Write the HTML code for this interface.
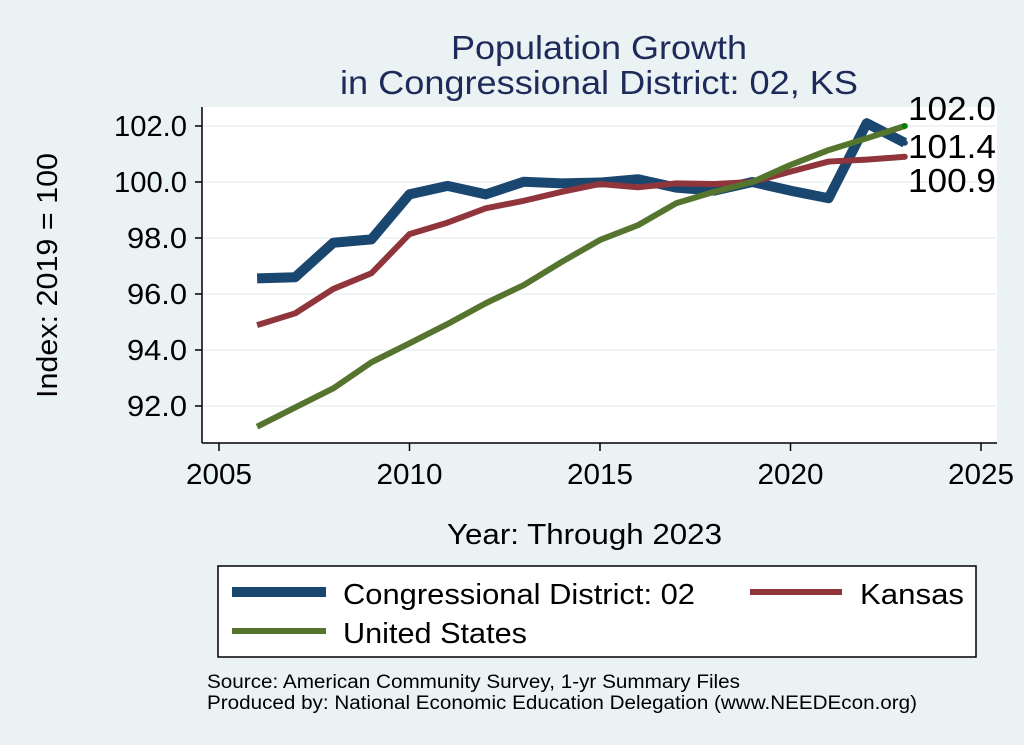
<!DOCTYPE html>
<html><head><meta charset="utf-8"><style>
body{margin:0;background:#eaf2f3;}
svg{display:block;font-family:"Liberation Sans",Arial,sans-serif;}
</style></head><body>
<svg id="chart" width="1024" height="745">
<rect x="0" y="0" width="1024" height="745" fill="#eaf2f3"/>
<text x="451" y="59" font-size="33" fill="#1e2b5a" textLength="296" lengthAdjust="spacingAndGlyphs">Population Growth</text>
<text x="340" y="94" font-size="33" fill="#1e2b5a" textLength="518" lengthAdjust="spacingAndGlyphs">in Congressional District: 02, KS</text>
<rect x="202" y="107" width="795" height="336" fill="#fff"/>
<g id="grid"></g>
<g id="series"></g>
<g id="axes"></g>
<text transform="translate(57,398) rotate(-90)" font-size="29" textLength="245" lengthAdjust="spacingAndGlyphs" fill="#000">Index: 2019 = 100</text>
<text x="447" y="544" font-size="29" textLength="275" lengthAdjust="spacingAndGlyphs" fill="#000">Year: Through 2023</text>
<g>
<rect x="218" y="566" width="758" height="91" fill="#fff" stroke="#000" stroke-width="1.5"/>
<line x1="232" y1="592" x2="326" y2="592" stroke="#1a476f" stroke-width="10"/>
<text x="343" y="604" font-size="29" textLength="352" lengthAdjust="spacingAndGlyphs">Congressional District: 02</text>
<line x1="750" y1="592" x2="842" y2="592" stroke="#90353b" stroke-width="6"/>
<text x="860" y="604" font-size="29" textLength="104" lengthAdjust="spacingAndGlyphs">Kansas</text>
<line x1="232" y1="631" x2="326" y2="631" stroke="#55752f" stroke-width="6"/>
<text x="343" y="643" font-size="29" textLength="184" lengthAdjust="spacingAndGlyphs">United States</text>
</g>
<text x="207" y="688" font-size="19" textLength="533" lengthAdjust="spacingAndGlyphs">Source: American Community Survey, 1-yr Summary Files</text>
<text x="207" y="709" font-size="19" textLength="710" lengthAdjust="spacingAndGlyphs">Produced by: National Economic Education Delegation (www.NEEDEcon.org)</text>
</svg>
<script>
const years=[2006,2007,2008,2009,2010,2011,2012,2013,2014,2015,2016,2017,2018,2019,2020,2021,2022,2023];
const district=[96.56,96.6,97.83,97.95,99.56,99.86,99.56,100.01,99.95,99.98,100.1,99.8,99.69,100,99.69,99.42,102.1,101.4];
const kansas=[94.89,95.31,96.18,96.74,98.14,98.55,99.06,99.33,99.65,99.93,99.81,99.95,99.93,100,100.37,100.73,100.8,100.9];
const us=[91.26,91.95,92.63,93.56,94.24,94.93,95.67,96.32,97.15,97.93,98.46,99.24,99.65,100,100.61,101.14,101.56,102.0];
const yTicks=[92,94,96,98,100,102];
const xTicks=[2005,2010,2015,2020,2025];
const endLabels=["102.0","101.4","100.9"];
const NS="http://www.w3.org/2000/svg";
const X=v=>219+(v-2005)*38.1;
const Y=v=>182-(v-100)*28;
function mk(tag,attrs,parent){const e=document.createElementNS(NS,tag);for(const k in attrs)e.setAttribute(k,attrs[k]);parent.appendChild(e);return e;}
const grid=document.getElementById('grid'),axes=document.getElementById('axes'),ser=document.getElementById('series');
yTicks.forEach(t=>{
 const g=mk('line',{x1:202,x2:997,y1:Y(t),y2:Y(t),stroke:'#eaf2f3','stroke-width':1.5},grid);
 
 
 const tk=mk('line',{x1:195,x2:202,y1:Y(t),y2:Y(t),stroke:'#000','stroke-width':1.5},axes);
 
 
 const s=t.toFixed(1);
 const w=s.length===5?73:60;
 const lb=mk('text',{x:187-w,y:Y(t)+10,'font-size':29,textLength:w,lengthAdjust:'spacingAndGlyphs'},axes);
 lb.textContent=s;
 
 
});
xTicks.forEach(t=>{
 const tk=mk('line',{x1:X(t),x2:X(t),y1:443,y2:451,stroke:'#000','stroke-width':1.5},axes);
 
 
 const lb=mk('text',{x:X(t)-33,y:484,'font-size':29,textLength:66,lengthAdjust:'spacingAndGlyphs'},axes);
 lb.textContent=t;
 
 
});
const ya=mk('line',{x1:202,x2:202,y1:107,y2:443,stroke:'#000','stroke-width':1.5},axes);


const xa=mk('line',{x1:202,x2:997,y1:443,y2:443,stroke:'#000','stroke-width':1.5},axes);


function line(vals,color,w,name){
 const p=mk('polyline',{points:vals.map((v,i)=>X(years[i])+','+Y(v)).join(' '),fill:'none',stroke:color,'stroke-width':w,'stroke-linejoin':'round'},ser);
 
 
}
line(district,'#1a476f',10,'line-district');
line(kansas,'#90353b',6,'line-kansas');
line(us,'#55752f',6,'line-us');
const lastX=X(years[years.length-1]);
[[us,'#008000'],[district,'#1a476f'],[kansas,'#90353b']].forEach(([s,c])=>{
 const d=mk('circle',{cx:lastX,cy:Y(s[s.length-1]),r:3,fill:c},ser);
 
 
});
const labY=[120,158,192];
endLabels.forEach((t,i)=>{
 const lb=mk('text',{x:908,y:labY[i],'font-size':33,textLength:88,lengthAdjust:'spacingAndGlyphs'},ser);
 lb.textContent=t;
 
 
});
</script>
</body></html>
